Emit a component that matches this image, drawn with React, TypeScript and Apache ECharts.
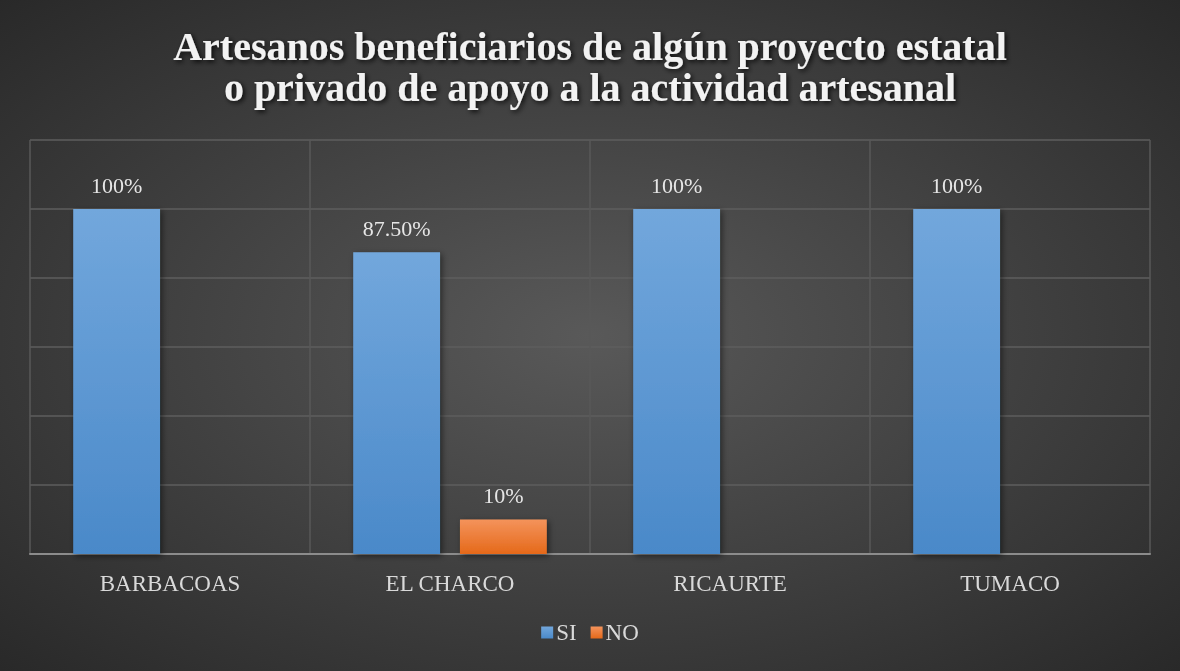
import React, { useEffect, useRef } from "react";
import * as echarts from "echarts";

const titleText = "Artesanos beneficiarios de algún proyecto estatal\no privado de apoyo a la actividad artesanal";
const categories = ["BARBACOAS", "EL CHARCO", "RICAURTE", "TUMACO"];
const siValues = [100, 87.5, 100, 100];
const siLabels = ["100%", "87.50%", "100%", "100%"];
const noValues = [0, 10, 0, 0];
const noLabels = ["", "10%", "", ""];

export default function App() {
  const ref = useRef<HTMLDivElement>(null);
  useEffect(() => {
    const chart = echarts.init(ref.current!, null, { renderer: "svg" });
    const font = "'Liberation Serif', 'Times New Roman', serif";
    chart.setOption({
      animation: false,
      backgroundColor: {
        type: "radial",
        x: 0.5,
        y: 0.5,
        r: 0.75,
        colorStops: [
          { offset: 0, color: "#595959" },
          { offset: 1, color: "#262626" },
        ],
      },
      title: {
        text: titleText,
        left: "center",
        top: 21,
        textStyle: {
          color: "#f2f2f2",
          fontFamily: font,
          fontWeight: "bold",
          fontSize: 40,
          lineHeight: 41,
          textShadowColor: "rgba(0,0,0,0.8)",
          textShadowBlur: 5,
          textShadowOffsetX: 2,
          textShadowOffsetY: 2,
        },
      },
      legend: {
        bottom: 22,
        left: "center",
        itemWidth: 12,
        itemHeight: 12,
        itemGap: 14,
        icon: "rect",
        textStyle: { color: "#d9d9d9", fontFamily: font, fontSize: 23, padding: [0, 0, 0, -2] },
        data: ["SI", "NO"],
      },
      grid: { left: 30, right: 30, top: 140, bottom: 117 },
      xAxis: {
        type: "category",
        data: categories,
        axisLine: { show: true, lineStyle: { color: "#8c8c8c", width: 2 } },
        axisTick: { show: false },
        splitLine: { show: true, lineStyle: { color: "#595959", width: 1.5 } },
        axisLabel: { color: "#d9d9d9", fontFamily: font, fontSize: 23, margin: 18 },
      },
      yAxis: {
        type: "value",
        min: 0,
        max: 120,
        interval: 20,
        axisLabel: { show: false },
        axisLine: { show: false },
        axisTick: { show: false },
        splitLine: { lineStyle: { color: "#5e5e5e", width: 1.5 } },
      },
      series: [
        {
          name: "SI",
          type: "bar",
          data: siValues,
          barWidth: "31%",
          barGap: "23%",
          itemStyle: {
            color: new echarts.graphic.LinearGradient(0, 0, 0, 1, [
              { offset: 0, color: "#72a7dc" },
              { offset: 1, color: "#4a89c9" },
            ]),
            shadowColor: "rgba(0,0,0,0.5)",
            shadowBlur: 6,
            shadowOffsetX: 2,
            shadowOffsetY: 2,
          },
          label: {
            show: true,
            position: "top",
            distance: 13,
            color: "#e6e6e6",
            fontFamily: font,
            fontSize: 22,
            formatter: (p: any) => siLabels[p.dataIndex],
          },
        },
        {
          name: "NO",
          type: "bar",
          data: noValues,
          barWidth: "31%",
          itemStyle: {
            color: new echarts.graphic.LinearGradient(0, 0, 0, 1, [
              { offset: 0, color: "#f4935b" },
              { offset: 1, color: "#e5691a" },
            ]),
            shadowColor: "rgba(0,0,0,0.5)",
            shadowBlur: 6,
            shadowOffsetX: 2,
            shadowOffsetY: 2,
          },
          label: {
            show: true,
            position: "top",
            distance: 13,
            color: "#e6e6e6",
            fontFamily: font,
            fontSize: 22,
            formatter: (p: any) => noLabels[p.dataIndex],
          },
        },
      ],
    });
    return () => chart.dispose();
  }, []);
  return (
    <div
      ref={ref}
      style={{ position: "fixed", left: 0, top: 0, width: 1180, height: 671 }}
    />
  );
}
